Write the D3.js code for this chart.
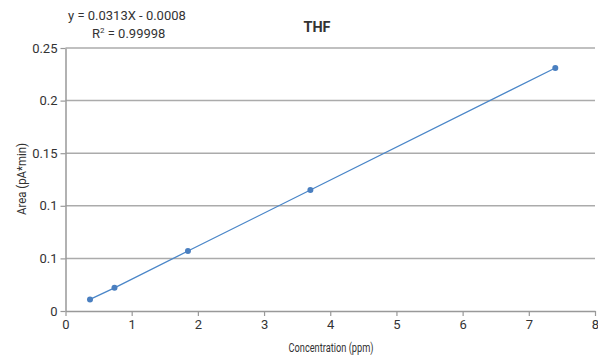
<!DOCTYPE html>
<html><head><meta charset="utf-8">
<script src="https://cdn.jsdelivr.net/npm/d3@7"></script>
<style>
body{margin:0;background:#fff;}
text{font-family:"Roboto","Liberation Sans",sans-serif;fill:#333;}
</style></head>
<body><svg id="c" width="598" height="358"></svg>
<script>
const concentrations = [0.37, 0.74, 1.85, 3.7, 7.4];
const areas = [0.011, 0.022, 0.057, 0.115, 0.231];
const yTickValues = [0, 0.05, 0.1, 0.15, 0.2, 0.25];
const yTickLabels = ["0", "0.1", "0.1", "0.15", "0.2", "0.25"];
const xTickValues = [0, 1, 2, 3, 4, 5, 6, 7, 8];
const chartTitle = "THF";
const equationText = "y = 0.0313X - 0.0008";
const rSquaredValue = "0.99998";

const svg = d3.select("#c");
const x = d3.scaleLinear().domain([0, 8]).range([65.5, 595]);
const y = d3.scaleLinear().domain([0, 0.25]).range([311, 48]);

// gridlines
svg.append("g").selectAll("line").data(yTickValues.slice(1)).join("line")
  .attr("x1", x(0)).attr("x2", x(8))
  .attr("y1", d => y(d)).attr("y2", d => y(d))
  .attr("stroke", "#ababab").attr("stroke-width", 1.5);

// y axis
const yAxis = d3.axisLeft(y).tickValues(yTickValues)
  .tickFormat((d, i) => yTickLabels[i]).tickSize(5).tickSizeOuter(0);
const gy = svg.append("g").attr("transform", `translate(${x(0)},0)`).call(yAxis);
gy.select(".domain").attr("stroke", "#999").attr("stroke-width", 1.5);
gy.selectAll(".tick line").attr("stroke", "#999").attr("stroke-width", 1.2);
gy.selectAll(".tick text").attr("font-size", 13).attr("x", -8).attr("fill", "#3a3a3a")
  .style("font-family", '"Roboto",sans-serif');

// x axis
const xAxis = d3.axisBottom(x).tickValues(xTickValues).tickSize(5).tickSizeOuter(0);
const gx = svg.append("g").attr("transform", `translate(0,${y(0)})`).call(xAxis);
gx.select(".domain").attr("stroke", "#999").attr("stroke-width", 1.5);
gx.selectAll(".tick line").attr("stroke", "#999").attr("stroke-width", 1.2);
gx.selectAll(".tick text").attr("font-size", 13).attr("y", 9).attr("fill", "#3a3a3a")
  .style("font-family", '"Roboto",sans-serif');

// line + markers
const pts = concentrations.map((c, i) => [c, areas[i]]);
svg.append("path").datum(pts)
  .attr("d", d3.line().x(d => x(d[0])).y(d => y(d[1])))
  .attr("fill", "none").attr("stroke", "#4a86c8").attr("stroke-width", 1.3);
svg.append("g").selectAll("circle").data(pts).join("circle")
  .attr("cx", d => x(d[0])).attr("cy", d => y(d[1])).attr("r", 3)
  .attr("fill", "#4a7fc0");

// title
svg.append("text").attr("x", 317).attr("y", 32).attr("text-anchor", "middle")
  .attr("font-size", 14).attr("font-weight", "bold").attr("fill", "#111")
  .attr("textLength", 27).attr("lengthAdjust", "spacingAndGlyphs").text(chartTitle);

// equation
svg.append("text").attr("x", 68).attr("y", 20).attr("font-size", 13).attr("fill", "#3a3a3a").text(equationText);
const r = svg.append("text").attr("x", 92).attr("y", 38).attr("font-size", 13).attr("fill", "#3a3a3a");
r.append("tspan").text("R");
r.append("tspan").attr("font-size", 8).attr("dy", -5).text("2");
r.append("tspan").attr("dy", 5).text(" = " + rSquaredValue);

// axis titles
svg.append("text").attr("transform", "translate(26,179) rotate(-90)")
  .attr("text-anchor", "middle").attr("font-size", 13).attr("fill", "#3a3a3a")
  .attr("textLength", 72).attr("lengthAdjust", "spacingAndGlyphs").text("Area (pA*min)");
svg.append("text").attr("x", 331).attr("y", 352).attr("text-anchor", "middle")
  .attr("font-size", 13).attr("fill", "#3a3a3a")
  .attr("textLength", 85).attr("lengthAdjust", "spacingAndGlyphs").text("Concentration (ppm)");
</script></body></html>
